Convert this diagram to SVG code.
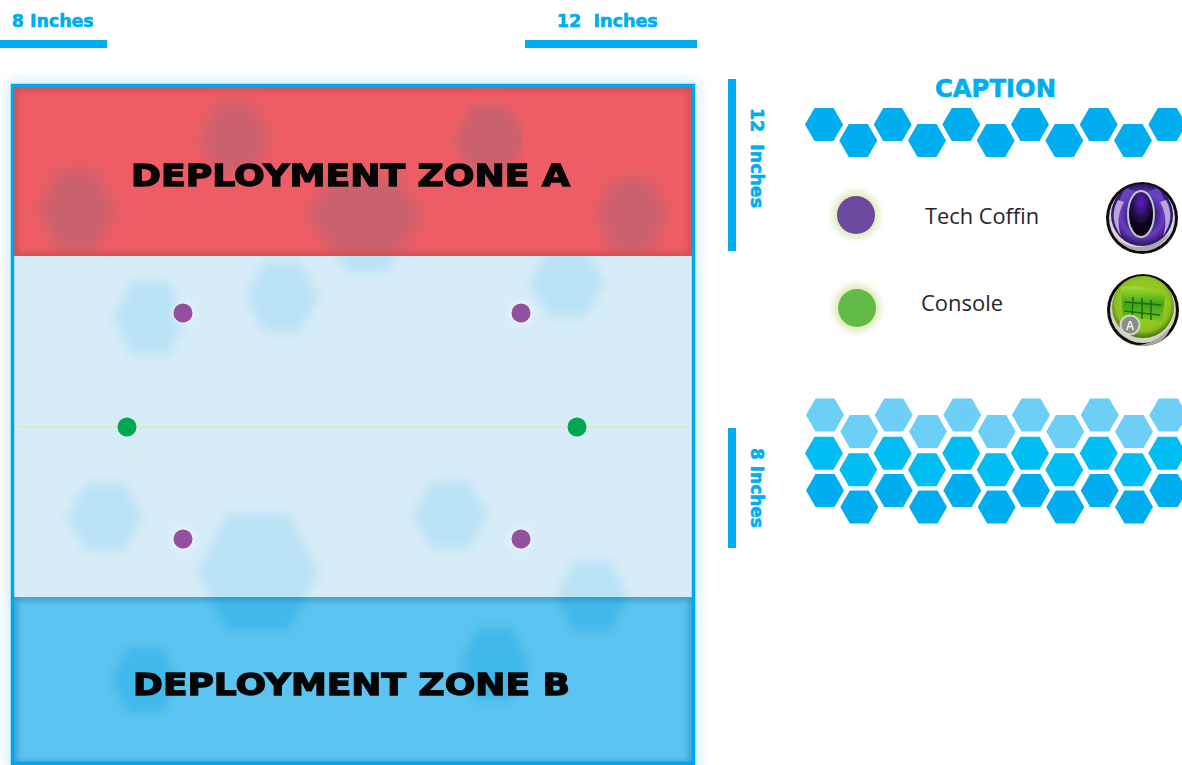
<svg xmlns="http://www.w3.org/2000/svg" xmlns:xlink="http://www.w3.org/1999/xlink" width="1182" height="765" viewBox="0 0 1182 765">
<style>
.tech{font-family:"DejaVu Sans",sans-serif;font-weight:700;fill:#00aeef;stroke:#00aeef;stroke-width:.6}
.zone{font-family:"DejaVu Sans",sans-serif;font-weight:700;fill:#050505;stroke:#050505;stroke-width:1.3}
.leg{font-family:"Open Sans","Noto Sans",sans-serif;fill:#262626}
.bar{fill:#00aeef}
</style>
<defs>
<polygon id="hex" points="-19,0 -9.5,-16.5 9.5,-16.5 19,0 9.5,16.5 -9.5,16.5"/>
<filter id="b8" x="-30%" y="-30%" width="160%" height="160%"><feGaussianBlur stdDeviation="7"/></filter>
<filter id="b5" x="-30%" y="-30%" width="160%" height="160%"><feGaussianBlur stdDeviation="5"/></filter>
<filter id="b6" x="-5%" y="-5%" width="110%" height="110%"><feGaussianBlur stdDeviation="7"/></filter>
<filter id="b3" x="-60%" y="-60%" width="220%" height="220%"><feGaussianBlur stdDeviation="3"/></filter>
<filter id="b1" x="-20%" y="-20%" width="140%" height="140%"><feGaussianBlur stdDeviation=".7"/></filter>
<clipPath id="cRed"><rect x="14" y="87" width="678" height="169"/></clipPath>
<clipPath id="cA"><rect x="400" y="87" width="123" height="169"/></clipPath>
<clipPath id="cMid"><rect x="14" y="256" width="678" height="341"/></clipPath>
<clipPath id="cBlue"><rect x="14" y="597" width="678" height="168"/></clipPath>
<radialGradient id="gP" cx=".5" cy=".5" r=".5"><stop offset="0" stop-color="#12061f"/><stop offset=".4" stop-color="#3a1a80"/><stop offset=".7" stop-color="#6a3cc0"/><stop offset="1" stop-color="#2a1460"/></radialGradient>
<radialGradient id="gO" cx=".5" cy=".25" r=".8"><stop offset="0" stop-color="#5a20c0"/><stop offset=".6" stop-color="#120520"/><stop offset="1" stop-color="#050208"/></radialGradient>
<radialGradient id="gG" cx=".5" cy=".45" r=".55"><stop offset="0" stop-color="#a8dc2c"/><stop offset=".8" stop-color="#8cc11e"/><stop offset="1" stop-color="#4c6e12"/></radialGradient>
<linearGradient id="gK" x1="0" y1="0" x2="0" y2="1"><stop offset="0" stop-color="#a5dc35"/><stop offset=".5" stop-color="#3fa513"/><stop offset="1" stop-color="#7cc520"/></linearGradient>
</defs>

<g id="board">
<rect x="9" y="82" width="688" height="690" fill="#6dcff6" opacity=".4" filter="url(#b6)"/>
<rect x="14" y="87" width="678" height="678" fill="#d6ecf9"/>
<g id="zone-a" clip-path="url(#cRed)">
<rect x="14" y="87" width="678" height="169" fill="#ee5d65"/>
<g fill="#9a6a7a" opacity=".42" filter="url(#b8)">
<use xlink:href="#hex" transform="translate(235,138) scale(1.85,2.1)"/>
<use xlink:href="#hex" transform="translate(77,210) scale(2,2.4)"/>
<use xlink:href="#hex" transform="translate(365,215) scale(3.1,2.4)"/>
<use xlink:href="#hex" transform="translate(632,215) scale(1.85,2.2)"/>
</g>
<g clip-path="url(#cA)"><g fill="#9a6a7a" opacity=".42" filter="url(#b5)"><use xlink:href="#hex" transform="translate(490,140) scale(1.9,2.1)"/></g></g>
<rect x="14" y="87" width="678" height="169" fill="none" stroke="#a83a3f" stroke-width="6" opacity=".5" filter="url(#b3)"/>
</g>
<g id="zone-mid" clip-path="url(#cMid)">
<g fill="#a5dcf2" opacity=".55" filter="url(#b5)">
<use xlink:href="#hex" transform="translate(150,318) scale(1.9,2.2)"/>
<use xlink:href="#hex" transform="translate(282,297) scale(1.9,2.1)"/>
<use xlink:href="#hex" transform="translate(367,242) scale(2,1.8)"/>
<use xlink:href="#hex" transform="translate(567,283) scale(1.95,2)"/>
<use xlink:href="#hex" transform="translate(105,517) scale(2,2)"/>
<use xlink:href="#hex" transform="translate(450,515) scale(1.95,2)"/>
<use xlink:href="#hex" transform="translate(258,572) scale(3.2,3.5)"/>
<use xlink:href="#hex" transform="translate(592,596) scale(1.9,2.1)"/>
</g>
</g>
<g id="zone-b" clip-path="url(#cBlue)">
<rect x="14" y="597" width="678" height="168" fill="#5cc4f0"/>
<g fill="#1fa8e2" opacity=".42" filter="url(#b5)">
<use xlink:href="#hex" transform="translate(258,572) scale(3.2,3.5)"/>
<use xlink:href="#hex" transform="translate(592,596) scale(1.9,2.1)"/>
<use xlink:href="#hex" transform="translate(495,664) scale(1.8,2.2)"/>
<use xlink:href="#hex" transform="translate(145,680) scale(1.75,1.95)"/>
</g>
<rect x="14" y="597" width="678" height="168" fill="none" stroke="#1f78b4" stroke-width="6" opacity=".6" filter="url(#b3)"/>
</g>
<rect x="12.500" y="85.500" width="681" height="678" fill="none" stroke="#00a6ea" stroke-width="3.500"/>
</g>

<g id="connectors">
<line x1="18" y1="427" x2="688" y2="427" stroke="#dcecc0" stroke-width="2"/>
</g>

<text class="zone" x="131" y="186" font-size="30" textLength="439" lengthAdjust="spacingAndGlyphs">DEPLOYMENT ZONE A</text>
<text class="zone" x="133" y="695" font-size="30" textLength="437" lengthAdjust="spacingAndGlyphs">DEPLOYMENT ZONE B</text>

<g id="tech-coffin-1"><circle cx="183" cy="313" r="12" fill="#fff" opacity=".45" filter="url(#b3)"/><circle cx="183" cy="313" r="9.500" fill="#92509f"/></g>
<g id="tech-coffin-2"><circle cx="521" cy="313" r="12" fill="#fff" opacity=".45" filter="url(#b3)"/><circle cx="521" cy="313" r="9.500" fill="#92509f"/></g>
<g id="tech-coffin-3"><circle cx="183" cy="539" r="12" fill="#fff" opacity=".45" filter="url(#b3)"/><circle cx="183" cy="539" r="9.500" fill="#92509f"/></g>
<g id="tech-coffin-4"><circle cx="521" cy="539" r="12" fill="#fff" opacity=".45" filter="url(#b3)"/><circle cx="521" cy="539" r="9.500" fill="#92509f"/></g>
<g id="console-1"><circle cx="127" cy="427" r="9.500" fill="#00a651"/></g>
<g id="console-2"><circle cx="577" cy="427" r="9.500" fill="#00a651"/></g>

<g id="dimensions">
<rect class="bar" x="0" y="40" width="107" height="8"/>
<rect class="bar" x="525" y="40" width="172" height="8"/>
<rect class="bar" x="728" y="79" width="8" height="172"/>
<rect class="bar" x="728" y="428" width="8" height="120"/>
<text class="tech" x="12" y="27" font-size="17" textLength="82" lengthAdjust="spacingAndGlyphs">8 Inches</text>
<text class="tech" x="557" y="27" font-size="17" textLength="101" lengthAdjust="spacingAndGlyphs" xml:space="preserve">12  Inches</text>
<text class="tech" transform="translate(751,108) rotate(90)" font-size="17" textLength="100" lengthAdjust="spacingAndGlyphs" xml:space="preserve">12  Inches</text>
<text class="tech" transform="translate(751,448) rotate(90)" font-size="17" textLength="80" lengthAdjust="spacingAndGlyphs">8 Inches</text>
</g>

<text class="tech" x="935" y="97" font-size="24" textLength="121" lengthAdjust="spacingAndGlyphs">CAPTION</text>

<g id="hex-strip-top" fill="#00aeef">
<use xlink:href="#hex" x="824" y="124.500"/><use xlink:href="#hex" x="892.700" y="124.500"/><use xlink:href="#hex" x="961.300" y="124.500"/><use xlink:href="#hex" x="1030" y="124.500"/><use xlink:href="#hex" x="1098.700" y="124.500"/><use xlink:href="#hex" x="1167.300" y="124.500"/>
<use xlink:href="#hex" x="858.300" y="140.500"/><use xlink:href="#hex" x="927" y="140.500"/><use xlink:href="#hex" x="995.700" y="140.500"/><use xlink:href="#hex" x="1064.300" y="140.500"/><use xlink:href="#hex" x="1133" y="140.500"/>
</g>

<g id="legend-tech-coffin">
<circle cx="856" cy="215" r="24" fill="#d4e3a8" opacity=".7" filter="url(#b3)"/>
<circle cx="856" cy="215" r="19" fill="#6a4a9e"/>
<text class="leg" x="925" y="224" font-size="22" textLength="114" lengthAdjust="spacingAndGlyphs">Tech Coffin</text>
</g>
<g id="legend-console">
<circle cx="857" cy="308" r="24" fill="#d4e3a8" opacity=".7" filter="url(#b3)"/>
<circle cx="857" cy="308" r="19" fill="#62bb46"/>
<text class="leg" x="921" y="311" font-size="22" textLength="82" lengthAdjust="spacingAndGlyphs">Console</text>
</g>

<g id="icon-tech-coffin" filter="url(#b1)">
<circle cx="1142" cy="218" r="36" fill="#111"/>
<circle cx="1142" cy="218" r="33" fill="#d7d4dc"/>
<circle cx="1142" cy="215" r="31" fill="url(#gP)"/>
<path d="M1119 205 Q1121 190 1128 188 Q1142 197 1156 188 Q1163 190 1165 205 Q1156 194 1142 196 Q1128 194 1119 205Z" fill="#6b3fc0"/>
<path d="M1118 200 Q1108 218 1121 236 Q1115 218 1124 202Z M1166 200 Q1176 218 1163 236 Q1169 218 1160 202Z" fill="#b9a5dc"/>
<ellipse cx="1141" cy="214" rx="13" ry="23" fill="url(#gO)" stroke="#b9cbc8" stroke-width="2"/>
<path d="M1118 240 Q1140 256 1166 236 L1170 233 Q1160 250 1142 251 Q1128 251 1118 240Z" fill="#a8a6a8"/>
</g>
<g id="icon-console" filter="url(#b1)">
<circle cx="1143" cy="310" r="36" fill="#111"/>
<circle cx="1143" cy="310" r="33" fill="#cfd2c4"/>
<circle cx="1143" cy="307" r="31" fill="url(#gG)"/>
<path d="M1121 287 Q1144 284 1165 296 L1162 322 Q1142 316 1123 320Z" fill="url(#gK)"/>
<path d="M1125 302 L1161 305 M1124 311 L1160 315 M1133 297 L1132 319 M1142 298 L1142 319 M1151 300 L1151 320" stroke="#1a6e12" stroke-width="1.500" fill="none"/>
<path d="M1120 340 Q1145 354 1170 328 Q1165 345 1143 346 Q1130 346 1120 340Z" fill="#a8a8a0"/>
<circle cx="1130" cy="325" r="9.500" fill="#8a8f86" stroke="#d5d7cf" stroke-width="2"/>
<text x="1130" y="330" font-family="Liberation Sans,sans-serif" font-weight="700" font-size="12" fill="#f2f2e6" text-anchor="middle">A</text>
</g>

<g id="hex-block">
<g fill="#6dcff6">
<use xlink:href="#hex" x="825" y="415"/><use xlink:href="#hex" x="893.700" y="415"/><use xlink:href="#hex" x="962.300" y="415"/><use xlink:href="#hex" x="1031" y="415"/><use xlink:href="#hex" x="1099.700" y="415"/><use xlink:href="#hex" x="1168.300" y="415"/>
<use xlink:href="#hex" x="859.300" y="431.500"/><use xlink:href="#hex" x="928" y="431.500"/><use xlink:href="#hex" x="996.700" y="431.500"/><use xlink:href="#hex" x="1065.300" y="431.500"/><use xlink:href="#hex" x="1134" y="431.500"/>
</g>
<g fill="#00bdf2">
<use xlink:href="#hex" x="824" y="453.300"/><use xlink:href="#hex" x="892.700" y="453.300"/><use xlink:href="#hex" x="961.300" y="453.300"/><use xlink:href="#hex" x="1030" y="453.300"/><use xlink:href="#hex" x="1098.700" y="453.300"/><use xlink:href="#hex" x="1167.300" y="453.300"/>
<use xlink:href="#hex" x="858.300" y="469.700"/><use xlink:href="#hex" x="927" y="469.700"/><use xlink:href="#hex" x="995.700" y="469.700"/><use xlink:href="#hex" x="1064.300" y="469.700"/><use xlink:href="#hex" x="1133" y="469.700"/>
</g>
<g fill="#00aeef">
<use xlink:href="#hex" x="825" y="490.500"/><use xlink:href="#hex" x="893.700" y="490.500"/><use xlink:href="#hex" x="962.300" y="490.500"/><use xlink:href="#hex" x="1031" y="490.500"/><use xlink:href="#hex" x="1099.700" y="490.500"/><use xlink:href="#hex" x="1168.300" y="490.500"/>
<use xlink:href="#hex" x="859.300" y="507"/><use xlink:href="#hex" x="928" y="507"/><use xlink:href="#hex" x="996.700" y="507"/><use xlink:href="#hex" x="1065.300" y="507"/><use xlink:href="#hex" x="1134" y="507"/>
</g>
</g>
</svg>
